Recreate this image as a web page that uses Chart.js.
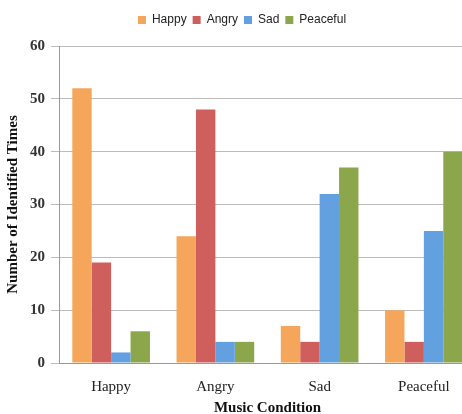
<!DOCTYPE html>
<html>
<head>
<meta charset="utf-8">
<script src="https://cdn.jsdelivr.net/npm/chart.js@4"></script>
<style>
html,body{margin:0;padding:0;background:#fff;overflow:hidden;width:462px;height:414px;}
#wrap{width:476px;height:414px;position:relative;}
</style>
</head>
<body>
<div id="wrap"><canvas id="c" width="476" height="414"></canvas></div>
<script>
const categories = ["Happy", "Angry", "Sad", "Peaceful"];
const seriesNames = ["Happy", "Angry", "Sad", "Peaceful"];
const happyValues = [52, 24, 7, 10];
const angryValues = [19, 48, 4, 4];
const sadValues = [2, 4, 32, 25];
const peacefulValues = [6, 4, 37, 40];
const seriesColors = ["#F5A65B", "#CF5F5C", "#62A0E0", "#8CA64C"];
const yTicks = [0, 10, 20, 30, 40, 50, 60];
const xTitle = "Music Condition";
const yTitle = "Number of Identified Times";

const allValues = [happyValues, angryValues, sadValues, peacefulValues];
const serif = "'Liberation Serif', 'Times New Roman', serif";

const legendSpacer = {
  id: 'legendSpacer',
  beforeInit(chart) {
    const lg = chart.legend;
    const fit = lg.fit;
    lg.fit = function () { fit.call(this); this.height += 10; };
    const draw = lg.draw;
    lg.draw = function () {
      const ctx = this.ctx;
      ctx.save(); ctx.translate(4, 0); draw.call(this); ctx.restore();
    };
  }
};

new Chart(document.getElementById('c'), {
  type: 'bar',
  data: {
    labels: categories,
    datasets: seriesNames.map((n, i) => ({
      label: n,
      data: allValues[i],
      backgroundColor: seriesColors[i],
      borderWidth: 0,
      barPercentage: 1,
      categoryPercentage: 0.745
    }))
  },
  plugins: [legendSpacer],
  options: {
    responsive: false,
    animation: false,
    devicePixelRatio: 1,
    layout: { padding: { left: 0, right: 0, top: 8, bottom: 0 } },
    plugins: {
      legend: {
        position: 'top',
        labels: {
          boxWidth: 8, boxHeight: 8, padding: 6,
          color: '#222',
          font: { family: "'Liberation Sans', Arial, sans-serif", size: 12 }
        }
      },
      tooltip: { enabled: false }
    },
    scales: {
      x: {
        afterFit: (s) => { s.height = 51; },
        grid: { display: false, drawTicks: false, tickLength: 0 },
        border: { display: true, color: '#999', width: 1 },
        ticks: { color: '#222', padding: 15, font: { family: serif, size: 15 } },
        title: { display: true, text: xTitle, color: '#111', padding: { top: 0, bottom: -2 },
                 font: { family: serif, size: 15, weight: 'bold', lineHeight: 1 } }
      },
      y: {
        min: 0, max: 60,
        afterBuildTicks: (s) => { s.ticks = yTicks.map(v => ({ value: v })); },
        afterFit: (s) => { s.width = 59; },
        grid: { color: '#bbb', tickLength: 8, tickColor: '#bbb' },
        border: { display: true, color: '#999', width: 1 },
        ticks: { color: '#333', padding: 6, font: { family: serif, size: 15, weight: 'bold' } },
        title: { display: true, text: yTitle, color: '#111', padding: { top: 4, bottom: 0 },
                 font: { family: serif, size: 15, weight: 'bold' } }
      }
    }
  }
});
</script>
</body>
</html>
